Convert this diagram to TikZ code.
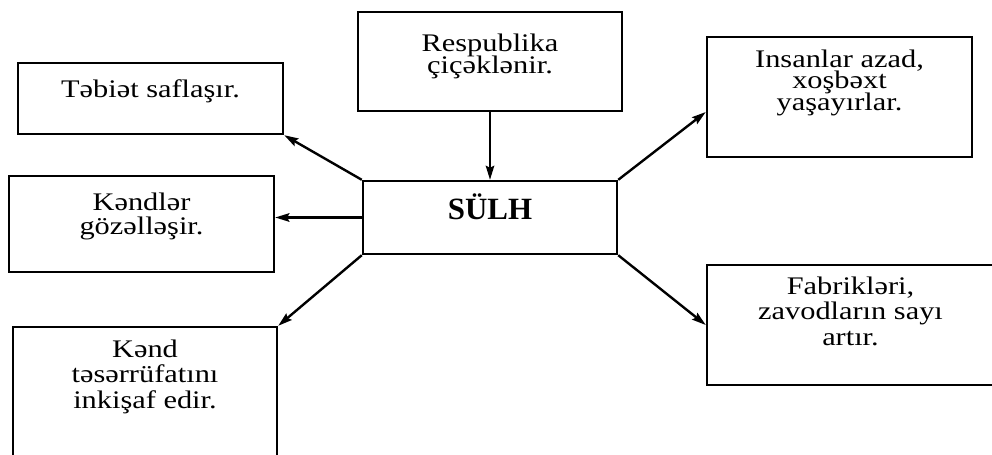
\documentclass[tikz,border=0pt]{standalone}
\usepackage{fontspec}
\setmainfont[FakeStretch=1.2]{Liberation Serif}
\newfontfamily\titlefont{Liberation Serif}
\usetikzlibrary{arrows.meta}
\setlength{\lineskiplimit}{-100pt}

\begin{document}
\begin{tikzpicture}[
    x=0.025cm, y=-0.025cm,
    box/.style={draw, line width=1.7pt, inner sep=0pt, minimum width=6.625cm},
    txt/.style={align=center, inner sep=0pt, anchor=base, font=\fontsize{18pt}{17pt}\selectfont},
    arrow/.style={-{Stealth[length=10pt, width=6pt, inset=1.5pt]}, line width=1.7pt}
]
\useasboundingbox (0,0) rectangle (992,454);
\clip (0,0) rectangle (992,454);

\node[box, minimum height=1.775cm] (tebiet) at (150.5, 98.5) {};
\node[box, minimum width=6.6cm, minimum height=2.475cm] (respublika) at (490, 61.5) {};
\node[box, minimum height=3cm] (insanlar) at (839.5, 97) {};
\node[box, minimum width=6.35cm, minimum height=1.825cm] (sulh) at (490, 217.5) {};
\node[box, minimum height=2.4cm] (kendler) at (141.5, 224) {};
\node[box, minimum width=6.6cm, minimum height=3.75cm] (kend) at (145, 402) {};
\node[box, minimum width=7.175cm, minimum height=3cm] (fabrik) at (850.5, 325) {};

% base anchor = last line
\node[txt] (tebiet-txt) at (150.5, 97) {Təbiət saflaşır.};
\node[txt, font=\fontsize{18pt}{15.3pt}\selectfont] (respublika-txt) at (490, 73) {Respublika\\çiçəklənir.};
\node[txt, font=\fontsize{18pt}{15pt}\selectfont] (insanlar-txt) at (839.5, 110) {Insanlar azad,\\xoşbəxt\\yaşayırlar.};
\node[txt, font=\fontsize{22pt}{24pt}\titlefont\bfseries] (sulh-txt) at (490, 219) {SÜLH};
\node[txt] (kendler-txt) at (141.5, 234) {Kəndlər\\gözəlləşir.};
\node[txt, font=\fontsize{18pt}{17.8pt}\selectfont] (kend-txt) at (145, 408) {Kənd\\təsərrüfatını\\inkişaf edir.};
\node[txt, font=\fontsize{18pt}{18pt}\selectfont] (fabrik-txt) at (850.5, 345) {Fabrikləri,\\zavodların sayı\\artır.};

\draw[arrow] (respublika) -- (sulh);
\draw[arrow] (sulh.north west) -- (tebiet.south east);
\draw[arrow] (sulh.west) -- (sulh.west -| kendler.east);
\draw[arrow] (sulh.south west) -- (kend.north east);
\draw[arrow] (sulh.north east) -- ([yshift=-0.375cm]insanlar.west);
\draw[arrow] (sulh.south east) -- (fabrik.west);

\end{tikzpicture}
\end{document}
